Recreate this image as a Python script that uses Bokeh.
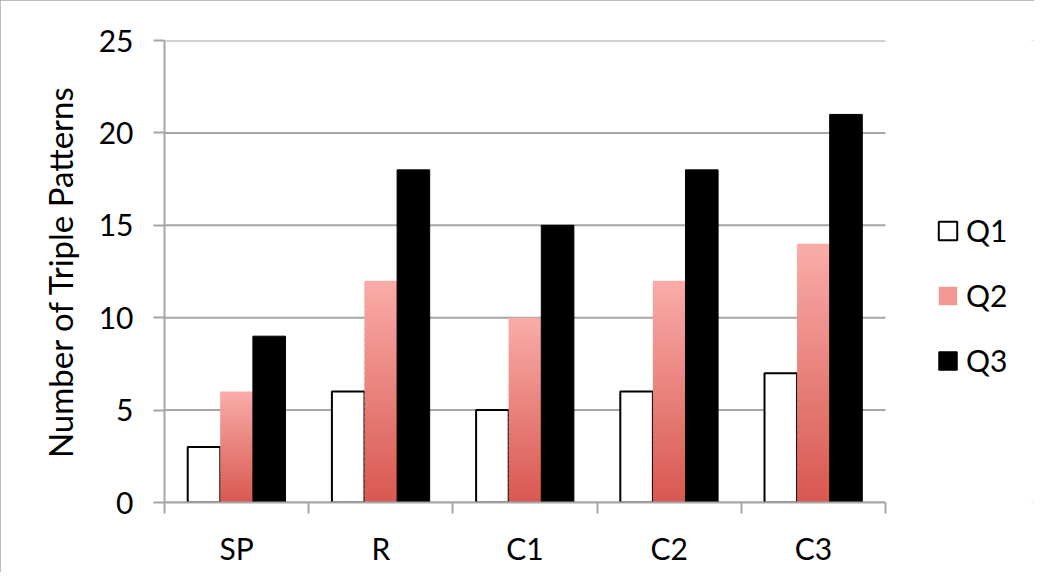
from bokeh.plotting import figure
from bokeh.models import Range1d, FixedTicker, Legend, LegendItem, ColumnDataSource
from bokeh.embed import file_html
from bokeh.resources import INLINE

categories = ["SP", "R", "C1", "C2", "C3"]
series_names = ["Q1", "Q2", "Q3"]
q1 = [3, 6, 5, 6, 7]
q2 = [6, 12, 10, 12, 14]
q3 = [9, 18, 15, 18, 21]
y_ticks = [0, 5, 10, 15, 20, 25]
y_label = "Number of Triple Patterns"

FONT = "Lato"
GRAY = "#A6A6A6"
W, H = 1034, 572
LEFT, RIGHT_AXIS_END, TOP, BOTTOM = 164, 885, 40, 502

n = len(categories)
# frame extends to the right edge so the legend can sit inside it
x_end = n * (W - LEFT) / (RIGHT_AXIS_END - LEFT)

p = figure(width=W, height=H, output_backend="svg", toolbar_location=None,
           x_range=Range1d(0, x_end), y_range=Range1d(0, max(y_ticks)),
           min_border_left=LEFT, min_border_right=0, min_border_top=TOP,
           min_border_bottom=H - BOTTOM)
p.outline_line_color = None
p.styles = {"outline": "3px solid #A6A6A6", "outline-offset": "-3px"}

bw = 0.226
centers = [i + 0.5 for i in range(n)]

# horizontal gridlines limited to the category span
p.segment(x0=[0] * len(y_ticks), x1=[n] * len(y_ticks), y0=y_ticks, y1=y_ticks,
          line_color=GRAY, line_width=2)

# Q1: white bars with black outline
src1 = ColumnDataSource(dict(x=[c - bw for c in centers], top=q1))
r1 = p.vbar(x="x", top="top", width=bw, source=src1, fill_color="white",
            line_color="black", line_width=2)

# Q2: vertical gradient built as stacked slices of each bar
N = 40
top_rgb = (250, 172, 169)
bot_rgb = (216, 88, 80)
xs, bots, tops, cols = [], [], [], []
for i, v in enumerate(q2):
    for k in range(N):
        t = (k + 0.5) / N
        rgb = tuple(int(round(b + (a - b) * t)) for a, b in zip(top_rgb, bot_rgb))
        xs.append(centers[i])
        bots.append(v * k / N)
        tops.append(v * min(k + 1.6, N) / N)
        cols.append("#%02x%02x%02x" % rgb)
src2 = ColumnDataSource(dict(x=xs, bottom=bots, top=tops, color=cols))
r2 = p.vbar(x="x", bottom="bottom", top="top", width=bw, source=src2,
            fill_color="color", line_color=None)

# Q3: black bars
src3 = ColumnDataSource(dict(x=[c + bw for c in centers], top=q3))
r3 = p.vbar(x="x", top="top", width=bw, source=src3, fill_color="black",
            line_color="black")

# Axes
p.yaxis.ticker = FixedTicker(ticks=y_ticks)
p.yaxis.axis_label = y_label
p.yaxis.axis_label_text_font = FONT
p.yaxis.axis_label_text_font_style = "normal"
p.yaxis.axis_label_text_font_size = "33px"
p.yaxis.axis_label_text_color = "black"
p.yaxis.axis_label_standoff = 16
p.yaxis.major_label_text_font = FONT
p.yaxis.major_label_text_font_size = "30px"
p.yaxis.major_label_text_color = "black"
p.yaxis.major_label_standoff = 20
p.yaxis.major_tick_out = 11
p.yaxis.major_tick_in = 0
p.yaxis.minor_tick_line_color = None

p.xaxis.bounds = (0, n)
p.xaxis.ticker = FixedTicker(ticks=centers, minor_ticks=list(range(n + 1)))
p.xaxis.major_label_overrides = {c: lab for c, lab in zip(centers, categories)}
p.xaxis.major_label_text_font = FONT
p.xaxis.major_label_text_font_size = "30px"
p.xaxis.major_label_text_color = "black"
p.xaxis.major_tick_line_color = None
p.xaxis.major_tick_out = 11
p.xaxis.major_tick_in = 0
p.xaxis.major_label_standoff = 16
p.xaxis.minor_tick_out = 11
p.xaxis.minor_tick_in = 0
p.xaxis.minor_tick_line_color = GRAY
p.xaxis.minor_tick_line_width = 2

for ax in (p.xaxis, p.yaxis):
    ax.axis_line_color = GRAY
    ax.axis_line_width = 2
p.yaxis.major_tick_line_color = GRAY
p.yaxis.major_tick_line_width = 2

p.xgrid.grid_line_color = None
p.ygrid.grid_line_color = None

legend = Legend(items=[
    LegendItem(label=series_names[0], renderers=[r1]),
    LegendItem(label=series_names[1], renderers=[r2], index=int(N * 0.75)),
    LegendItem(label=series_names[2], renderers=[r3]),
], location=(772, 124))
legend.margin = 0
legend.label_text_font = FONT
legend.label_text_font_size = "30px"
legend.label_text_color = "black"
legend.glyph_width = 23
legend.glyph_height = 23
legend.label_standoff = 7
legend.spacing = 29
legend.border_line_color = None
legend.background_fill_alpha = 0
p.add_layout(legend, "center")

open("out.html", "w").write(file_html(p, INLINE))
